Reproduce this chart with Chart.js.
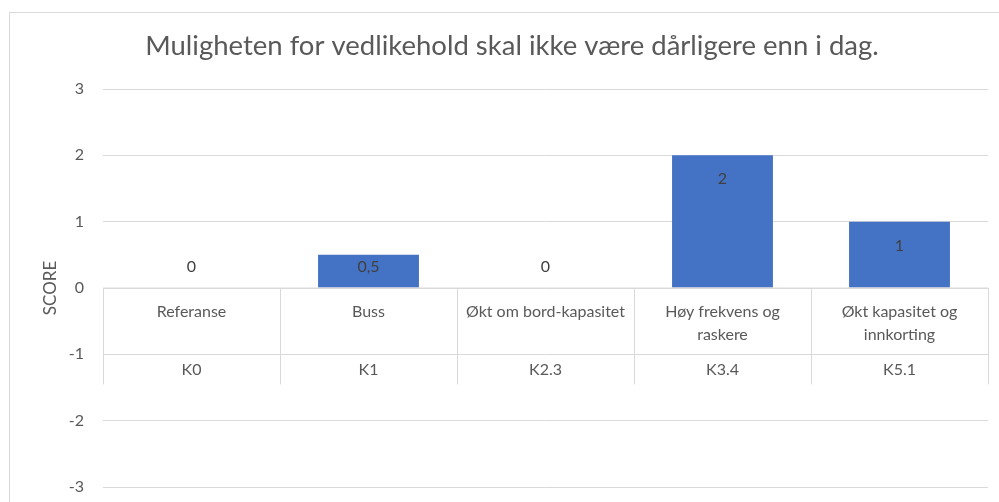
<!DOCTYPE html>
<html>
<head>
<meta charset="utf-8">
<script src="https://cdn.jsdelivr.net/npm/chart.js@4.4.1/dist/chart.umd.min.js"></script>
<style>
  html,body{margin:0;padding:0;background:#fff;overflow:hidden;}
  #wrap{position:relative;width:999px;height:502px;}
  #frame{position:absolute;left:9px;top:12px;width:1200px;height:800px;border-left:1px solid #d9d9d9;border-top:1px solid #d9d9d9;pointer-events:none;}
  canvas{position:absolute;left:0;top:0;}
</style>
</head>
<body>
<div id="wrap">
  <div id="frame"></div>
  <canvas id="chart" width="999" height="502"></canvas>
</div>
<script>
const chartTitle = 'Muligheten for vedlikehold skal ikke være dårligere enn i dag.';
const innerLabels = [['Referanse'], ['Buss'], ['Økt om bord-kapasitet'], ['Høy frekvens og', 'raskere'], ['Økt kapasitet og', 'innkorting']];
const outerLabels = ['K0', 'K1', 'K2.3', 'K3.4', 'K5.1'];
const scores = [0, 0.5, 0, 2, 1];
const yTicks = [3, 2, 1, 0, -1, -2, -3];

const FONT = 'Lato';
const GREY = '#595959';
const GRID = '#d9d9d9';

// two-level category table sitting on the zero line
const categoryTable = {
  id: 'categoryTable',
  afterDatasetsDraw(chart){
    const {ctx, scales:{x, y}} = chart;
    const zero = y.getPixelForValue(0);
    const split = y.getPixelForValue(-1);
    const bottom = split + 30;
    const w = (x.right - x.left) / innerLabels.length;
    ctx.save();
    ctx.strokeStyle = GRID;
    ctx.lineWidth = 1;
    ctx.beginPath();
    ctx.moveTo(x.left, zero); ctx.lineTo(x.right, zero);
    for(let i = 0; i <= innerLabels.length; i++){
      const px = Math.round(x.left + i * w) + 0.5;
      ctx.moveTo(px, zero); ctx.lineTo(px, bottom);
    }
    ctx.stroke();
    ctx.fillStyle = GREY;
    ctx.font = '16px ' + FONT;
    ctx.textAlign = 'center';
    ctx.textBaseline = 'middle';
    innerLabels.forEach((lines, i)=>{
      const cx = x.getPixelForValue(i);
      lines.forEach((t, j)=> ctx.fillText(t, cx, zero + 24 + j * 23));
      ctx.fillText(outerLabels[i], cx, split + 16);
    });
    ctx.restore();
  }
};

const barLabels = {
  id: 'barLabels',
  afterDatasetsDraw(chart){
    const {ctx} = chart;
    const meta = chart.getDatasetMeta(0);
    ctx.save();
    ctx.fillStyle = '#404040';
    ctx.font = '16px ' + FONT;
    ctx.textAlign = 'center';
    ctx.textBaseline = 'middle';
    meta.data.forEach((bar, i)=>{
      const v = scores[i];
      const txt = String(v).replace('.', ',');
      let ty;
      if(v === 0){
        ty = bar.base - 21;
      }else{
        ty = bar.y + Math.min(24, (bar.base - bar.y) * 0.36);
      }
      ctx.fillText(txt, bar.x, ty);
    });
    ctx.restore();
  }
};

new Chart(document.getElementById('chart'), {
  type: 'bar',
  data: {
    labels: outerLabels,
    datasets: [{
      label: 'SCORE',
      data: scores,
      backgroundColor: '#4472C4',
      borderWidth: 0,
      categoryPercentage: 1,
      barPercentage: 0.57
    }]
  },
  options: {
    responsive: false,
    animation: false,
    devicePixelRatio: 1,
    layout: {padding: {left: 36, right: 11, top: 30, bottom: 15}},
    plugins: {
      legend: {display: false},
      tooltip: {enabled: false},
      title: {
        display: true,
        text: chartTitle,
        color: GREY,
        font: {family: FONT, size: 27.5, weight: 'normal', lineHeight: 1.2},
        padding: {top: 0, bottom: 26}
      }
    },
    scales: {
      x: {display: false},
      y: {
        min: -3,
        max: 3,
        afterFit(s){ s.width = 67; s.paddingTop = 0; s.paddingBottom = 0; },
        afterBuildTicks(s){ s.ticks = yTicks.map(v=>({value: v})); },
        grid: {color: GRID, lineWidth: 1, drawTicks: false},
        border: {display: false},
        ticks: {
          color: GREY,
          font: {family: FONT, size: 16},
          padding: 19,
          callback: v => String(v)
        },
        title: {
          display: true,
          text: 'SCORE',
          color: GREY,
          font: {family: FONT, size: 17},
          padding: {top: 4, bottom: 0}
        }
      }
    }
  },
  plugins: [categoryTable, barLabels]
});
</script>
</body>
</html>
